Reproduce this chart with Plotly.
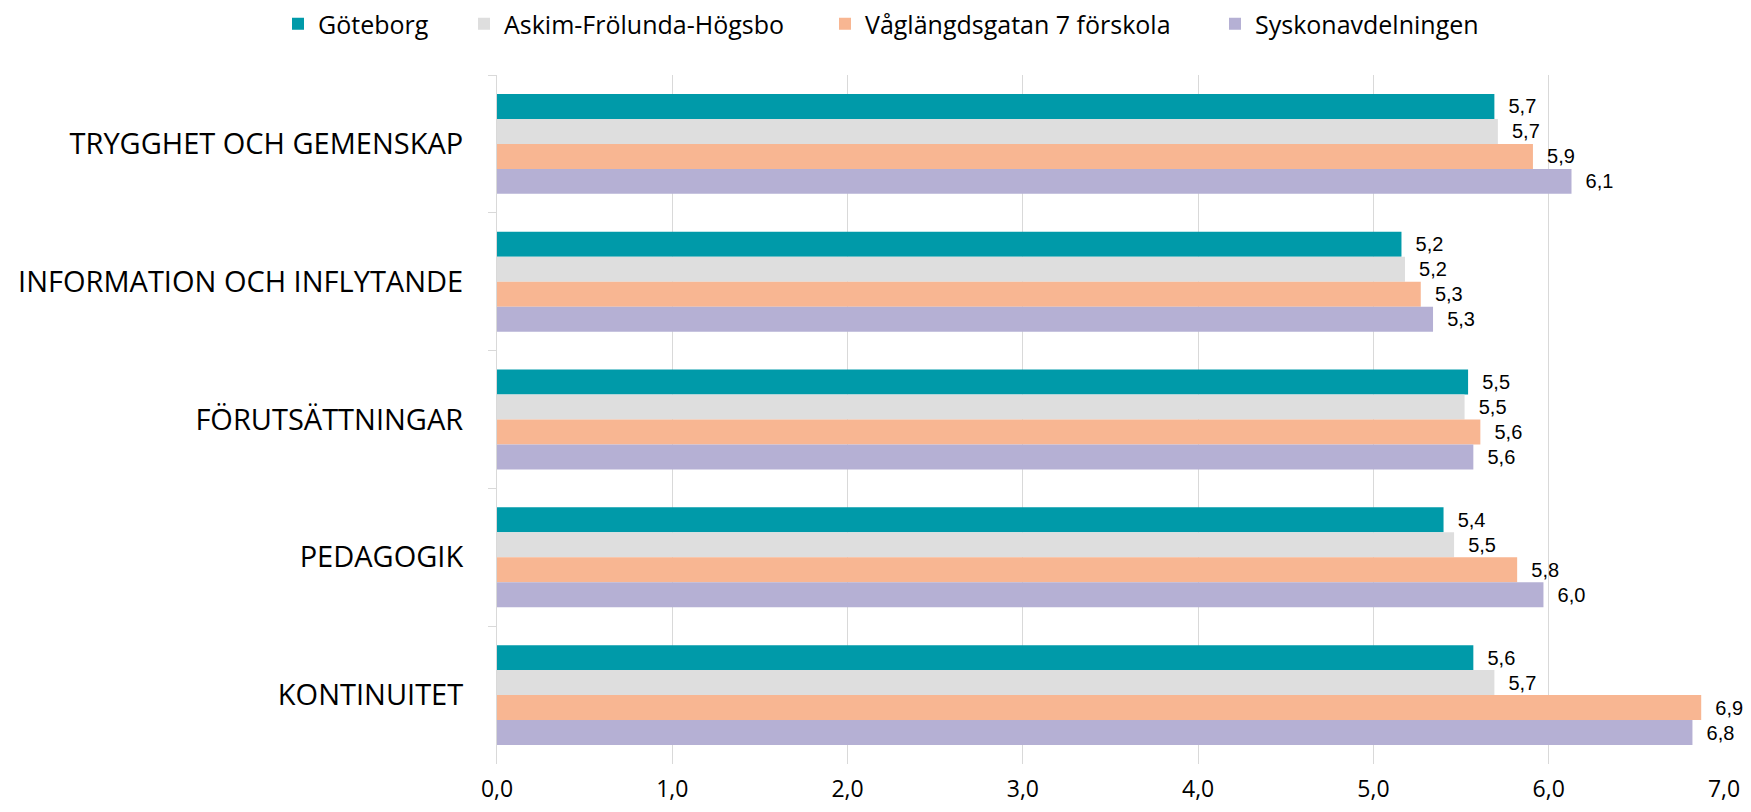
import plotly.graph_objects as go

categories = ["TRYGGHET OCH GEMENSKAP", "INFORMATION OCH INFLYTANDE", "FÖRUTSÄTTNINGAR", "PEDAGOGIK", "KONTINUITET"]
series_names = ["Göteborg", "Askim-Frölunda-Högsbo", "Våglängdsgatan 7 förskola", "Syskonavdelningen"]
goteborg = [5.69, 5.16, 5.54, 5.40, 5.57]
askim = [5.71, 5.18, 5.52, 5.46, 5.69]
vaglangd = [5.91, 5.27, 5.61, 5.82, 6.87]
syskon = [6.13, 5.34, 5.57, 5.97, 6.82]
x_ticks = [0, 1, 2, 3, 4, 5, 6, 7]

colors = ["#009AA9", "#DEDEDE", "#F8B692", "#B5B0D4"]
series_values = [goteborg, askim, vaglangd, syskon]

# page has an 8px body margin on every side; size the figure so the page does not overflow
W, H = 1735, 796
legend_left_px = [270, 456, 817, 1207]

fig = go.Figure()
for i, (name, vals, col) in enumerate(zip(series_names, series_values, colors)):
    lg = "legend" if i == 0 else f"legend{i+1}"
    fig.add_trace(go.Bar(
        y=categories, x=vals, name=name, orientation="h",
        marker=dict(color=col, line=dict(width=0)),
        texttemplate="\u00a0\u00a0%{x:.1f}", textposition="outside",
        textfont=dict(family="Liberation Sans, Arial", size=20, color="#000000"),
        constraintext="none", cliponaxis=False,
        legend=lg, hoverinfo="skip",
    ))

layout_legends = {}
for i, px in enumerate(legend_left_px):
    key = "legend" if i == 0 else f"legend{i+1}"
    layout_legends[key] = dict(
        orientation="h", xref="container", yref="container",
        x=px / W, xanchor="left", y=1 - 16 / H, yanchor="middle",
        font=dict(family="Open Sans", size=25, color="#000000"),
        bgcolor="rgba(0,0,0,0)",
    )

fig.update_layout(
    width=W, height=H,
    margin=dict(l=489, r=19, t=67, b=40, autoexpand=False),
    paper_bgcolor="white", plot_bgcolor="white",
    barmode="group", bargap=0.275, bargroupgap=0,
    separators=",.",
    showlegend=True,
    **layout_legends,
)
fig.update_xaxes(
    range=[0, 7], tickvals=x_ticks, tickformat=".1f",
    showgrid=True, gridcolor="#D9D9D9", gridwidth=1,
    zeroline=False, showline=False, ticks="",
    tickfont=dict(family="Open Sans", size=23, color="#000000"),
    ticklabelstandoff=9, automargin=False,
)
fig.update_yaxes(
    categoryorder="array", categoryarray=categories, autorange="reversed",
    showline=True, linecolor="#D9D9D9", linewidth=1,
    ticks="outside", tickson="boundaries", ticklen=8, tickcolor="#D9D9D9",
    showgrid=False, automargin=False,
    tickfont=dict(family="Open Sans", size=29, color="#000000"),
    ticklabelstandoff=27,
)

fig.write_html("out.html")
